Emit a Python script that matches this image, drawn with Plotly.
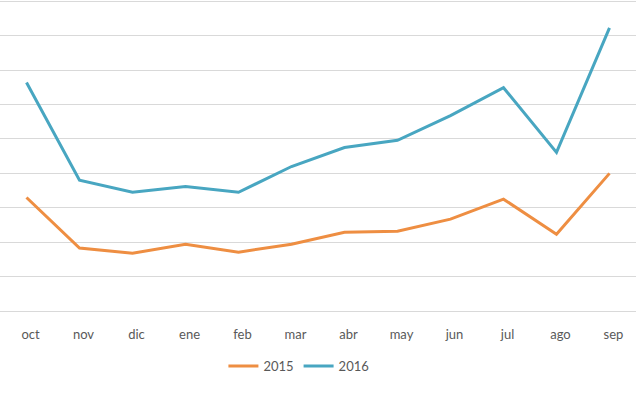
import plotly.graph_objects as go

months = ["oct", "nov", "dic", "ene", "feb", "mar", "abr", "may", "jun", "jul", "ago", "sep"]
s2015 = [3.30, 1.83, 1.68, 1.94, 1.71, 1.94, 2.29, 2.32, 2.67, 3.25, 2.23, 4.00]
s2016 = [6.64, 3.80, 3.45, 3.62, 3.45, 4.20, 4.75, 4.96, 5.68, 6.49, 4.61, 8.23]

fig = go.Figure()
fig.add_trace(go.Scatter(x=months, y=s2015, name="2015", mode="lines",
                         line=dict(color="#EE8E42", width=3)))
fig.add_trace(go.Scatter(x=months, y=s2016, name="2016", mode="lines",
                         line=dict(color="#48A6C1", width=3)))

fig.update_layout(
    width=640, height=400,
    margin=dict(l=0, r=4, t=0, b=89),
    paper_bgcolor="white", plot_bgcolor="white",
    font=dict(family="Lato, Liberation Sans, sans-serif", size=13, color="#595959"),
    showlegend=True,
    legend=dict(orientation="h", x=0.47, xanchor="center", y=-0.177, yanchor="middle",
                font=dict(size=13, color="#595959"), itemwidth=30, tracegroupgap=0),
    xaxis=dict(type="category", range=[-0.5, 11.5], showgrid=False, zeroline=False,
               showline=False, ticks="", ticklabelstandoff=14, ticklabelshift=4),
    yaxis=dict(range=[0, 9.04], dtick=1, showgrid=True, gridcolor="#D9D9D9", gridwidth=1.3,
               showticklabels=False, zeroline=True, zerolinecolor="#D9D9D9", zerolinewidth=1.3,
               showline=False, ticks=""),
)

fig.write_html("out.html")
